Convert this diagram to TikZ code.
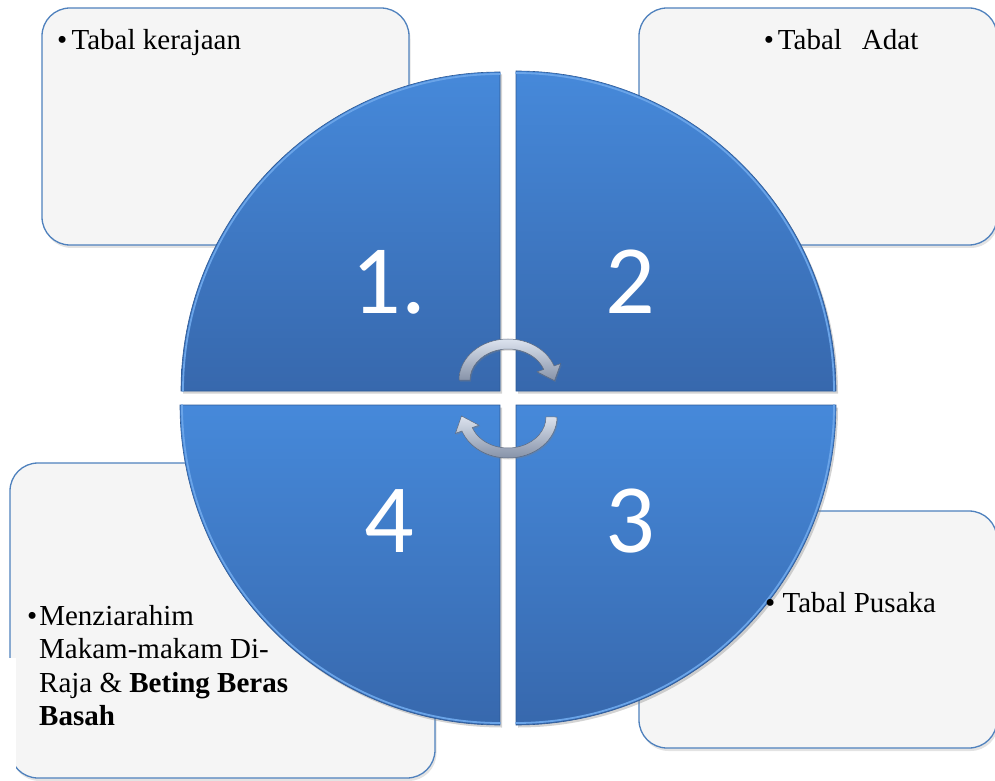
\documentclass[tikz,border=0pt]{standalone}
\usepackage{fontspec}
\setmainfont{Liberation Serif}
\newfontfamily\numfont{Carlito}
\usetikzlibrary{shadows}
\definecolor{boxfill}{HTML}{F5F5F5}
\definecolor{boxline}{HTML}{4F81BD}
\definecolor{qtop}{HTML}{4689DA}
\definecolor{qbot}{HTML}{3768AD}
\definecolor{qedge}{HTML}{6AA4E8}
\definecolor{qdark}{HTML}{2E5A96}
\definecolor{arrtop}{HTML}{DCE3EE}
\definecolor{arrbot}{HTML}{8692A8}
\definecolor{arrline}{HTML}{5E6A7E}
\begin{document}
\begin{tikzpicture}[x=1pt,y=1pt,
  infobox/.style={draw=boxline, line width=1.3pt, fill=boxfill, rounded corners=28pt, inner sep=0pt,
    drop shadow={opacity=0.22, shadow xshift=1.5pt, shadow yshift=-3pt}},
  quad/.style={top color=qtop, bottom color=qbot, draw=qdark, line width=0.6pt,
    drop shadow={opacity=0.35, shadow xshift=2pt, shadow yshift=-2.5pt}},
  rim/.style={draw=qedge, line width=1.8pt, line cap=round},
  cyclearrow/.style={top color=arrtop, bottom color=arrbot, draw=arrline, line width=0.5pt,
    drop shadow={opacity=0.3, shadow xshift=1pt, shadow yshift=-1.5pt}},
  txt/.style={font=\fontsize{29}{33.5}\selectfont, inner sep=0pt, text=black, anchor=base west},
  num/.style={font=\numfont\fontsize{98}{98}\selectfont, inner sep=0pt, text=white, anchor=base}
]
\useasboundingbox (0,0) rectangle (995,780);
\clip (0,0) rectangle (995,780);

% text boxes
\node[infobox, minimum width=367pt, minimum height=237pt] (boxA) at (225.5,653.5) {};
\node[infobox, minimum width=358pt, minimum height=237pt] (boxB) at (818,653.5) {};
\node[infobox, minimum width=358pt, minimum height=237pt] (boxC) at (818,150.5) {};
\node[infobox, minimum width=425pt, minimum height=315pt] (boxD) at (222.5,159.5) {};
\fill[white] (0,0) rectangle (16,122);

% quadrants
\path[quad] (500,389) -- (181,389) arc[start angle=180,end angle=90,radius=319] -- cycle;
\path[quad] (516,389) -- (516,709) arc[start angle=90,end angle=0,radius=320] -- cycle;
\path[quad] (516,375) -- (836,375) arc[start angle=0,end angle=-90,radius=320] -- cycle;
\path[quad] (500,375) -- (500,55) arc[start angle=-90,end angle=-180,radius=320] -- cycle;
\draw[rim] (183,389) arc[start angle=180,end angle=90,radius=317];
\draw[rim] (516,707) arc[start angle=90,end angle=0,radius=318];
\draw[rim] (834,375) arc[start angle=0,end angle=-90,radius=318];
\draw[rim] (500,57) arc[start angle=-90,end angle=-180,radius=318];

% cycle arrows
\path[cyclearrow] (459,400) arc[start angle=180,end angle=20,x radius=49,y radius=41]
  -- (560.6,416.4) -- (554.5,399.4) -- (537.1,408.2) -- (543.71,410.6)
  arc[start angle=20,end angle=180,x radius=38,y radius=31] -- cycle;
\path[cyclearrow] (557,363) arc[start angle=0,end angle=-160,x radius=49,y radius=41]
  -- (455.4,346.6) -- (461.5,364) -- (479,354.8) -- (472.29,352.4)
  arc[start angle=-160,end angle=0,x radius=38,y radius=31] -- cycle;

% numbers
\node[num] (n1) at (389,466) {1.};
\node[num] (n2) at (630,466) {2};
\node[num] (n3) at (630,228) {3};
\node[num] (n4) at (389,228) {4};

% texts
\node[txt] (tA) at (56.8,730) {\textbullet\hspace{4.5pt}Tabal kerajaan};
\node[txt] (tB) at (763.6,730) {\textbullet\hspace{4pt}Tabal\hspace{20pt}Adat};
\node[txt] (tC) at (765,168) {\textbullet\ Tabal Pusaka};
\node[txt] (tD1) at (27,155) {\textbullet\hspace{2pt}Menziarahim};
\node[txt] (tD2) at (39,121.5) {Makam-makam Di-};
\node[txt] (tD3) at (39,88) {Raja \& \textbf{Beting Beras}};
\node[txt] (tD4) at (39,54.5) {\textbf{Basah}};
\end{tikzpicture}
\end{document}
